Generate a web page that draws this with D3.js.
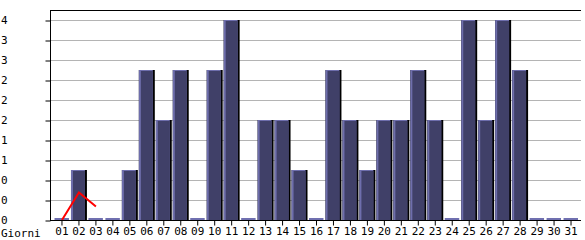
<!DOCTYPE html>
<html lang="en">
<head>
    <meta charset="UTF-8">
    <title>Giorni</title>
    <style>
        body { margin: 0; background: white; }
        #svg { display: block; }
        text { font-family: "DejaVu Sans Mono", monospace; font-size: 11px; fill: black; }
    </style>
    <script src="https://d3js.org/d3.v7.min.js"></script>
</head>
<body>
    <svg id="svg"></svg>
    <script>
        const width = 585;
        const height = 240;

        const days = ['01','02','03','04','05','06','07','08','09','10','11','12','13','14','15','16',
            '17','18','19','20','21','22','23','24','25','26','27','28','29','30','31'];
        const visits = [0,1,0,0,1,3,2,3,0,3,4,0,2,2,1,0,3,2,1,2,2,3,2,0,4,2,4,3,0,0,0];
        // red trend line only covers the first days
        const trendDays = ['01','02','03'];
        const trendValues = [0, 0.55, 0.27];
        const yTicks = [0,0.4,0.8,1.2,1.6,2,2.4,2.8,3.2,3.6,4];
        const yTickLabels = ['0','0','0','1','1','2','2','2','3','3','4'];
        const xTitle = 'Giorni';

        const svg = d3.select('#svg')
            .attr('width', width)
            .attr('height', height);

        const x = d3.scaleBand()
            .domain(days)
            .range([53.5, 579.5])
            .paddingInner(0.06)
            .paddingOuter(0.03);
        const y = d3.scaleLinear()
            .domain([0, 4])
            .range([220, 20]);

        // grid
        svg.selectAll('.grid')
            .data(yTicks.slice(1))
            .enter()
            .append('line')
            .attr('x1', 50)
            .attr('x2', 581)
            .attr('y1', d => Math.round(y(d)) + 0.5)
            .attr('y2', d => Math.round(y(d)) + 0.5)
            .attr('stroke', '#b4b4b4')
            .attr('stroke-width', 1);

        // top border
        svg.append('line')
            .attr('x1', 50).attr('x2', 581)
            .attr('y1', 10.5).attr('y2', 10.5)
            .attr('stroke', 'black');

        // bars
        const bw = x.bandwidth();
        const bars = svg.selectAll('.bar')
            .data(days.map((d, i) => ({ day: d, v: visits[i] })))
            .enter()
            .append('g')
            .attr('class', 'bar');

        bars.filter(d => d.v > 0).each(function (d) {
            const g = d3.select(this);
            const x0 = x(d.day);
            const top = y(d.v);
            const h = y(0) - top;
            g.append('rect')
                .attr('x', x0).attr('y', top)
                .attr('width', bw).attr('height', h)
                .attr('fill', 'black');
            g.append('rect')
                .attr('x', x0).attr('y', top)
                .attr('width', bw - 2).attr('height', h)
                .attr('fill', '#6e6eac');
            g.append('rect')
                .attr('x', x0 + 2).attr('y', top + 1)
                .attr('width', bw - 4).attr('height', h - 1)
                .attr('fill', '#404068');
        });

        bars.filter(d => d.v === 0)
            .append('rect')
            .attr('x', d => x(d.day) + 0.5)
            .attr('y', y(0) - 2)
            .attr('width', bw - 1.5)
            .attr('height', 2)
            .attr('fill', '#7070b0');

        // trend line
        const line = d3.line()
            .x((d, i) => x(trendDays[i]) + bw / 2)
            .y(d => y(d));
        svg.append('path')
            .datum(trendValues)
            .attr('d', line)
            .attr('fill', 'none')
            .attr('stroke', '#ff0000')
            .attr('stroke-width', 2);

        // axes
        const yAxis = d3.axisLeft(y)
            .tickValues(yTicks)
            .tickSize(5)
            .tickFormat('');
        const ya = svg.append('g')
            .attr('transform', 'translate(50.5,0)')
            .call(yAxis);
        ya.select('.domain').attr('d', 'M0,10V220.5').attr('stroke', 'black');
        ya.selectAll('line').attr('stroke', 'black')
            .attr('transform', d => 'translate(0,' + (Math.round(y(d)) + 0.5 - y(d)) + ')');

        svg.selectAll('.ylab')
            .data(yTicks)
            .enter()
            .append('text')
            .attr('x', 1)
            .attr('y', d => y(d))
            .attr('dy', '0.35em')
            .text((d, i) => yTickLabels[i]);

        const xAxis = d3.axisBottom(x)
            .tickSize(5)
            .tickPadding(2);
        const xa = svg.append('g')
            .attr('transform', 'translate(0,220.5)')
            .call(xAxis);
        xa.select('.domain').attr('d', 'M50,0H581').attr('stroke', 'black');
        xa.selectAll('line').attr('stroke', 'black');
        xa.selectAll('text')
            .style('font-family', '"DejaVu Sans Mono", monospace')
            .style('font-size', '11px')
            .attr('fill', 'black');

        svg.append('text')
            .attr('x', 1)
            .attr('y', 237)
            .text(xTitle);
    </script>
</body>
</html>
